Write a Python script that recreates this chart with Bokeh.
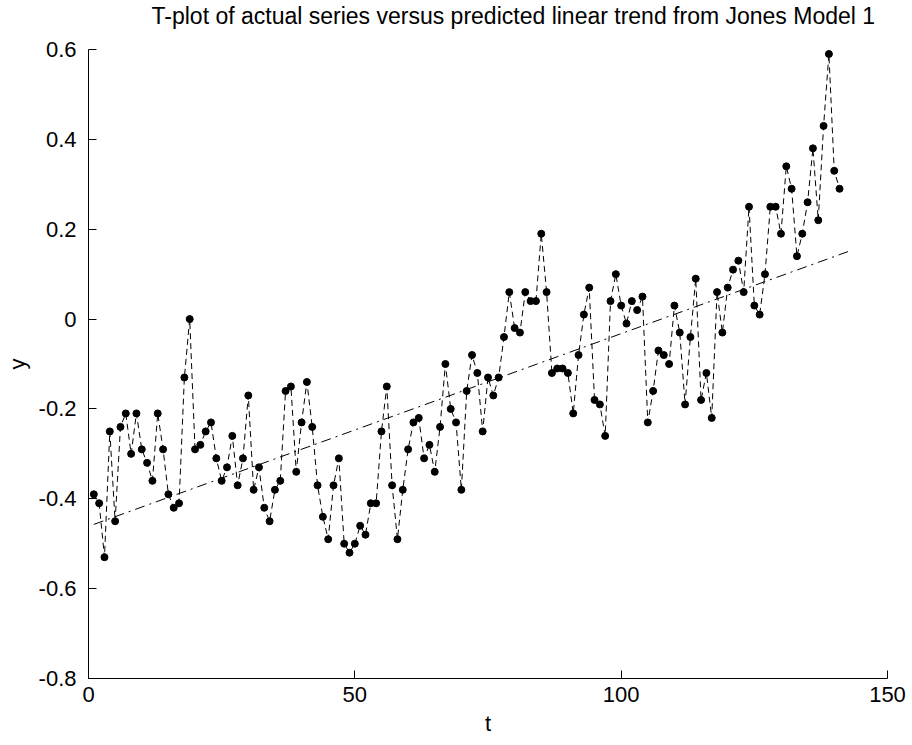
from bokeh.plotting import figure
from bokeh.models import Range1d, FixedTicker, ColumnDataSource, Title
from bokeh.embed import file_html
from bokeh.resources import INLINE

# ---- data ----
t_values = list(range(1, 142))
y_values = [
    -0.39, -0.41, -0.53, -0.25, -0.45, -0.24, -0.21, -0.30, -0.21, -0.29,
    -0.32, -0.36, -0.21, -0.29, -0.39, -0.42, -0.41, -0.13, 0.00, -0.29,
    -0.28, -0.25, -0.23, -0.31, -0.36, -0.33, -0.26, -0.37, -0.31, -0.17,
    -0.38, -0.33, -0.42, -0.45, -0.38, -0.36, -0.16, -0.15, -0.34, -0.23,
    -0.14, -0.24, -0.37, -0.44, -0.49, -0.37, -0.31, -0.50, -0.52, -0.50,
    -0.46, -0.48, -0.41, -0.41, -0.25, -0.15, -0.37, -0.49, -0.38, -0.29,
    -0.23, -0.22, -0.31, -0.28, -0.34, -0.24, -0.10, -0.20, -0.23, -0.38,
    -0.16, -0.08, -0.12, -0.25, -0.13, -0.17, -0.13, -0.04, 0.06, -0.02,
    -0.03, 0.06, 0.04, 0.04, 0.19, 0.06, -0.12, -0.11, -0.11, -0.12,
    -0.21, -0.08, 0.01, 0.07, -0.18, -0.19, -0.26, 0.04, 0.10, 0.03,
    -0.01, 0.04, 0.02, 0.05, -0.23, -0.16, -0.07, -0.08, -0.10, 0.03,
    -0.03, -0.19, -0.04, 0.09, -0.18, -0.12, -0.22, 0.06, -0.03, 0.07,
    0.11, 0.13, 0.06, 0.25, 0.03, 0.01, 0.10, 0.25, 0.25, 0.19,
    0.34, 0.29, 0.14, 0.19, 0.26, 0.38, 0.22, 0.43, 0.59, 0.33,
    0.29,
]
trend_t = [1, 143]
trend_y = [-0.457, 0.152]
x_ticks = [0, 50, 100, 150]
y_ticks = [-0.8, -0.6, -0.4, -0.2, 0, 0.2, 0.4, 0.6]
y_tick_labels = {-0.8: "-0.8", -0.6: "-0.6", -0.4: "-0.4", -0.2: "-0.2",
                 0: "0", 0.2: "0.2", 0.4: "0.4", 0.6: "0.6"}
title_text = "T-plot of actual series versus predicted linear trend from Jones Model 1"

FONT = "Liberation Sans"
FS = "22px"

p = figure(width=912, height=745, output_backend="svg", toolbar_location=None,
           x_range=Range1d(0, 150), y_range=Range1d(-0.8, 0.6),
           min_border_left=88, min_border_right=25, min_border_top=49,
           min_border_bottom=67)

p.outline_line_color = None
p.grid.visible = False
p.background_fill_color = "white"
p.border_fill_color = "white"

# spacer between the title and the plotting area
spacer = Title(text=" ", text_font_size="1px", standoff=15)
p.add_layout(spacer, "above")
main_title = Title(text=title_text, text_font=FONT, text_font_size="23px",
                   text_font_style="normal", text_color="black",
                   align="left", offset=63, vertical_align="top", standoff=2)
p.add_layout(main_title, "above")

for ax in (p.xaxis[0], p.yaxis[0]):
    ax.major_tick_in = 8
    ax.major_tick_out = 0
    ax.minor_tick_line_color = None
    ax.axis_line_color = "black"
    ax.major_tick_line_color = "black"
    ax.major_label_text_font = FONT
    ax.major_label_text_font_size = FS
    ax.major_label_text_color = "black"
    ax.axis_label_text_font = FONT
    ax.axis_label_text_font_size = FS
    ax.axis_label_text_font_style = "normal"
    ax.axis_label_text_color = "black"

p.xaxis.ticker = FixedTicker(ticks=x_ticks)
p.yaxis.ticker = FixedTicker(ticks=y_ticks)
p.yaxis.major_label_overrides = y_tick_labels
p.xaxis.axis_label = "t"
p.yaxis.axis_label = "y"
p.xaxis.major_label_standoff = 8
p.yaxis.major_label_standoff = 12
p.xaxis.axis_label_standoff = 6
p.yaxis.axis_label_standoff = 6

src = ColumnDataSource(dict(t=t_values, y=y_values))
p.line("t", "y", source=src, line_color="black", line_width=1, line_dash="6 4")
p.scatter("t", "y", source=src, size=7, fill_color="black", line_color="black")
p.line(trend_t, trend_y, line_color="black", line_width=1, line_dash="10 5 2 5")

open("out.html", "w").write(file_html(p, INLINE))
